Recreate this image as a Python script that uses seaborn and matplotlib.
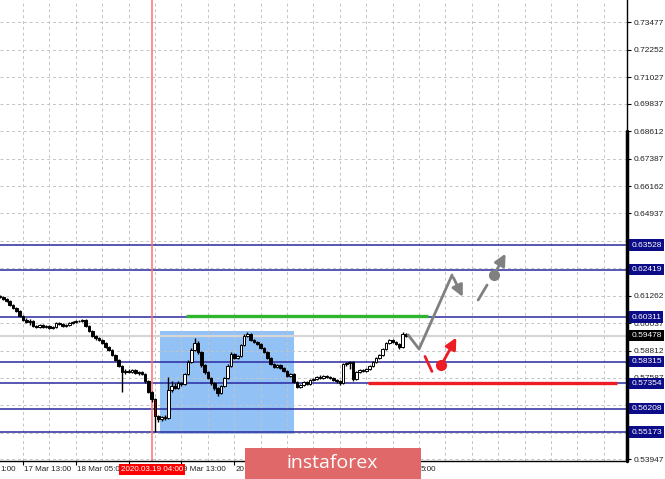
import numpy as np
import pandas as pd
import matplotlib
matplotlib.use("Agg")
import matplotlib.pyplot as plt
import seaborn as sns
from matplotlib.patches import Rectangle, FancyArrowPatch

# ---------------- data ----------------
first_open = 0.6125
closes = [0.6121, 0.6112, 0.6103, 0.6085, 0.6071, 0.6058, 0.6036, 0.6018, 0.6009, 0.6013,
          0.5991, 0.5986, 0.5995, 0.5986, 0.5991, 0.5982, 0.5986, 0.6004, 0.6000, 0.5991,
          0.5995, 0.6004, 0.6009, 0.6013, 0.6014, 0.6018, 0.5991, 0.5969, 0.5946, 0.5937,
          0.5928, 0.5915, 0.5897, 0.5884, 0.5861, 0.5839, 0.5812, 0.5785, 0.5790, 0.5785,
          0.5794, 0.5781, 0.5785, 0.5776, 0.5745, 0.5696, 0.5665, 0.5589, 0.5575, 0.5584,
          0.5580, 0.5705, 0.5723, 0.5714, 0.5736, 0.5732, 0.5776, 0.5830, 0.5884, 0.5915,
          0.5875, 0.5817, 0.5785, 0.5759, 0.5736, 0.5714, 0.5691, 0.5723, 0.5759, 0.5812,
          0.5866, 0.5848, 0.5857, 0.5906, 0.5946, 0.5955, 0.5928, 0.5919, 0.5910, 0.5893,
          0.5875, 0.5848, 0.5821, 0.5808, 0.5817, 0.5803, 0.5790, 0.5767, 0.5776, 0.5741,
          0.5718, 0.5727, 0.5741, 0.5732, 0.5750, 0.5754, 0.5763, 0.5759, 0.5767, 0.5763,
          0.5759, 0.5750, 0.5745, 0.5736, 0.5821, 0.5826, 0.5830, 0.5754, 0.5785, 0.5794,
          0.5790, 0.5799, 0.5812, 0.5830, 0.5848, 0.5861, 0.5888, 0.5915, 0.5928, 0.5919,
          0.5910, 0.5897, 0.5955, 0.5946]
highs = [0.6130, 0.6124, 0.6115, 0.6106, 0.6089, 0.6075, 0.6062, 0.6040, 0.6025, 0.6022,
         0.6018, 0.5996, 0.5999, 0.5999, 0.5995, 0.5995, 0.5990, 0.6010, 0.6008, 0.6003,
         0.5999, 0.6007, 0.6012, 0.6017, 0.6019, 0.6022, 0.6021, 0.5995, 0.5973, 0.5950,
         0.5942, 0.5932, 0.5919, 0.5901, 0.5888, 0.5866, 0.5844, 0.5816, 0.5797, 0.5799,
         0.5801, 0.5799, 0.5792, 0.5790, 0.5780, 0.5749, 0.5700, 0.5670, 0.5595, 0.5590,
         0.5592, 0.5763, 0.5745, 0.5735, 0.5745, 0.5742, 0.5782, 0.5838, 0.5893, 0.5937,
         0.5922, 0.5880, 0.5822, 0.5790, 0.5764, 0.5740, 0.5718, 0.5729, 0.5765, 0.5820,
         0.5875, 0.5871, 0.5862, 0.5912, 0.5955, 0.5964, 0.5960, 0.5933, 0.5925, 0.5915,
         0.5898, 0.5880, 0.5853, 0.5826, 0.5823, 0.5821, 0.5808, 0.5795, 0.5782, 0.5781,
         0.5745, 0.5733, 0.5746, 0.5746, 0.5755, 0.5760, 0.5768, 0.5770, 0.5774, 0.5772,
         0.5768, 0.5763, 0.5755, 0.5750, 0.5826, 0.5831, 0.5835, 0.5834, 0.5790, 0.5800,
         0.5799, 0.5804, 0.5817, 0.5835, 0.5853, 0.5866, 0.5893, 0.5920, 0.5935, 0.5933,
         0.5924, 0.5914, 0.5962, 0.5958]
lows = [0.6117, 0.6108, 0.6099, 0.6080, 0.6066, 0.6053, 0.6031, 0.6013, 0.6004, 0.5995,
        0.5986, 0.5980, 0.5982, 0.5980, 0.5981, 0.5977, 0.5978, 0.5984, 0.5996, 0.5987,
        0.5988, 0.5992, 0.6001, 0.6006, 0.6010, 0.6010, 0.5987, 0.5964, 0.5940, 0.5930,
        0.5922, 0.5910, 0.5892, 0.5878, 0.5856, 0.5834, 0.5806, 0.5696, 0.5778, 0.5779,
        0.5780, 0.5776, 0.5774, 0.5770, 0.5738, 0.5690, 0.5650, 0.5517, 0.5560, 0.5565,
        0.5570, 0.5575, 0.5698, 0.5708, 0.5708, 0.5725, 0.5728, 0.5770, 0.5825, 0.5878,
        0.5868, 0.5810, 0.5778, 0.5752, 0.5728, 0.5705, 0.5680, 0.5686, 0.5718, 0.5752,
        0.5806, 0.5842, 0.5843, 0.5852, 0.5900, 0.5940, 0.5922, 0.5913, 0.5905, 0.5887,
        0.5869, 0.5842, 0.5815, 0.5802, 0.5803, 0.5797, 0.5784, 0.5761, 0.5762, 0.5735,
        0.5712, 0.5712, 0.5722, 0.5726, 0.5727, 0.5745, 0.5749, 0.5754, 0.5754, 0.5757,
        0.5752, 0.5744, 0.5738, 0.5729, 0.5732, 0.5812, 0.5800, 0.5746, 0.5748, 0.5779,
        0.5784, 0.5785, 0.5795, 0.5807, 0.5825, 0.5843, 0.5856, 0.5883, 0.5910, 0.5913,
        0.5904, 0.5890, 0.5893, 0.5940]

# bottom time-axis labels as they show (partly hidden by the cursor box and the logo)
tick_pos = [-9, 7, 23, 39, 55, 71, 87, 103, 119]
tick_texts = {-9: ("1:00", 0.1), 7: ("17 Mar 13:00", 7.4), 23: ("18 Mar 05:00", 23.4),
              55: ("9 Mar 13:00", 55.6), 71: ("20", 71.4), 119: ("5:00", 127.4)}
cursor_bar = 46
cursor_label = "2020.03.19 04:00"

scale_vals = [0.73477, 0.72252, 0.71027, 0.69837, 0.68612, 0.67387, 0.66162, 0.64937,
              0.63712, 0.62487, 0.61262, 0.60037, 0.58812, 0.57587, 0.56362, 0.55137,
              0.53947]
hidden_scale = [0.63712, 0.62487, 0.56362, 0.55137]
level_vals = [0.63528, 0.62419, 0.60311, 0.58315, 0.57354, 0.56208, 0.55173]
bid_val = 0.59478

zone_x = [48.5, 89.1]
zone_y = [0.5508, 0.5969]
green_x = [56.4, 129.7]
green_y = 0.6034
red_x = [111.5, 187.0]
red_y = 0.57354

gray_path_x = [123.7, 127.0, 137.0]
gray_path_y = [0.5951, 0.5888, 0.6219]
gray_arrow1 = [(137.0, 0.6219), (140.6, 0.6110)]
gray_dash = [(144.9, 0.6107), (147.6, 0.6174)]
gray_dot = (149.7, 0.6219)
gray_arrow2 = [(149.7, 0.6219), (153.6, 0.6325)]
red_dash = [(128.8, 0.5855), (130.9, 0.5788)]
red_dot = (133.7, 0.5815)
red_arrow = [(133.7, 0.5815), (138.7, 0.5950)]

XLIM = (0.03, 190.0)
YLIM = (0.53878, 0.74475)

# ---------------- build table ----------------
opens = [first_open] + closes[:-1]
df = pd.DataFrame({"open": opens, "high": highs, "low": lows, "close": closes})
df["idx"] = np.arange(len(df))

# ---------------- figure ----------------
sns.set_theme(style="white")
plt.rcParams["font.family"] = ["Liberation Sans", "DejaVu Sans"]

W, H = 665, 479
fig = plt.figure(figsize=(W / 100, H / 100), dpi=100)
fig.patch.set_facecolor("white")
ax = fig.add_axes([0, 18 / H, 627 / W, 461 / H])
ax.set_facecolor("white")

# grid
for v in scale_vals:
    ax.axhline(v, color="#c4c4c4", lw=0.7, ls=(0, (3, 3)), zorder=1)
for gx in range(7, 190, 8):
    ax.axvline(gx, color="#c4c4c4", lw=0.7, ls=(0, (3, 3)), zorder=1)

# zone rectangle
ax.add_patch(Rectangle((zone_x[0], zone_y[0]), zone_x[1] - zone_x[0], zone_y[1] - zone_y[0],
                       facecolor="#8cbff5", edgecolor="none", alpha=0.95, zorder=0.5))

# level lines
for v in level_vals:
    ax.axhline(v, color="#2a2aa0", lw=1.1, zorder=2)
ax.axhline(bid_val, color="#d6d6d6", lw=1.6, zorder=1.5)
ax.axvline(cursor_bar, color="#ff7070", lw=1.1, zorder=2)

ax.plot(green_x, [green_y, green_y], color="#2fb52f", lw=2.4, solid_capstyle="butt", zorder=3)
ax.plot(red_x, [red_y, red_y], color="#ee1c24", lw=2.4, solid_capstyle="butt", zorder=3)

# candles
bull = df["close"] >= df["open"]
fills = np.where(bull, "white", "black").astype(object)
fills[cursor_bar + 1] = "#8b0000"
ax.vlines(df["idx"], df["low"], df["high"], color="black", lw=1.0, zorder=4)
body_bottom = np.minimum(df["open"], df["close"])
body_h = np.maximum(np.abs(df["close"] - df["open"]), 0.00015)
ax.bar(df["idx"], body_h, bottom=body_bottom, width=0.8, color=list(fills),
       edgecolor="black", linewidth=0.7, zorder=5)

# forecast arrows
sns.lineplot(x=gray_path_x, y=gray_path_y, ax=ax, color="#808080", lw=2, sort=False, zorder=6)
ax.add_patch(FancyArrowPatch(gray_arrow1[0], gray_arrow1[1], arrowstyle="-|>",
                             mutation_scale=17, color="#808080", lw=2, zorder=6))
ax.plot(*zip(*gray_dash), color="#808080", lw=2, zorder=6)
ax.plot(*gray_dot, marker="o", ms=7, color="#808080", zorder=6)
ax.add_patch(FancyArrowPatch(gray_arrow2[0], gray_arrow2[1], arrowstyle="-|>",
                             mutation_scale=17, color="#808080", lw=2, zorder=6))
ax.plot(*zip(*red_dash), color="#ee1c24", lw=2, zorder=6)
ax.plot(*red_dot, marker="o", ms=7, color="#ee1c24", zorder=6)
ax.add_patch(FancyArrowPatch(red_arrow[0], red_arrow[1], arrowstyle="-|>",
                             mutation_scale=17, color="#ee1c24", lw=2, zorder=6))

# spines / ticks
for s in ["top", "left"]:
    ax.spines[s].set_visible(False)
for s in ["right", "bottom"]:
    ax.spines[s].set_visible(True)
    ax.spines[s].set_color("black")
    ax.spines[s].set_linewidth(1)
ax.plot([1.0, 1.0], [0.68612, YLIM[0]], transform=ax.get_yaxis_transform(),
        color="black", lw=2.5, clip_on=False, zorder=10)

ax.yaxis.tick_right()
ax.set_yticks(scale_vals)
ax.set_yticklabels(["" if v in hidden_scale else f"{v:.5f}" for v in scale_vals])
ax.tick_params(axis="y", which="both", right=True, left=False, length=3, width=0.8,
               pad=2, labelsize=6, labelcolor="#222222", color="black")
ax.set_xticks(tick_pos)
ax.set_xticklabels([])
ax.tick_params(axis="x", bottom=True, length=3, width=0.8, color="black")

xt = ax.get_xaxis_transform()
for p, (lab, tx) in tick_texts.items():
    ax.text(tx, -0.018, lab, transform=xt, ha="left", va="center", fontsize=5.8,
            color="#222222", clip_on=False, zorder=8)
ax.text(cursor_bar, -0.018, cursor_label, transform=xt, ha="center", va="center",
        fontsize=5.8, color="white", clip_on=False, zorder=9,
        bbox=dict(boxstyle="square,pad=0.25", fc="#ff0000", ec="none"))

yt = ax.get_yaxis_transform()
for v in level_vals:
    ax.text(1.007, v, f"{v:.5f}", transform=yt, ha="left", va="center", fontsize=6,
            color="white", clip_on=False, zorder=11,
            bbox=dict(boxstyle="square,pad=0.25", fc="#0c0c88", ec="none"))
ax.text(1.007, bid_val, f"{bid_val:.5f}", transform=yt, ha="left", va="center", fontsize=6,
        color="white", clip_on=False, zorder=11,
        bbox=dict(boxstyle="square,pad=0.25", fc="black", ec="none"))

ax.set_xlim(*XLIM)
ax.set_ylim(*YLIM)

# watermark
fig.patches.append(Rectangle((245 / W, 0), 176 / W, 31 / H, transform=fig.transFigure,
                             facecolor="#e06868", edgecolor="none", zorder=20))
fig.text(332 / W, 16 / H, "instaforex", ha="center", va="center", fontsize=14,
         color="white", family="Open Sans", zorder=21)

fig.savefig("out.png", dpi=100)
